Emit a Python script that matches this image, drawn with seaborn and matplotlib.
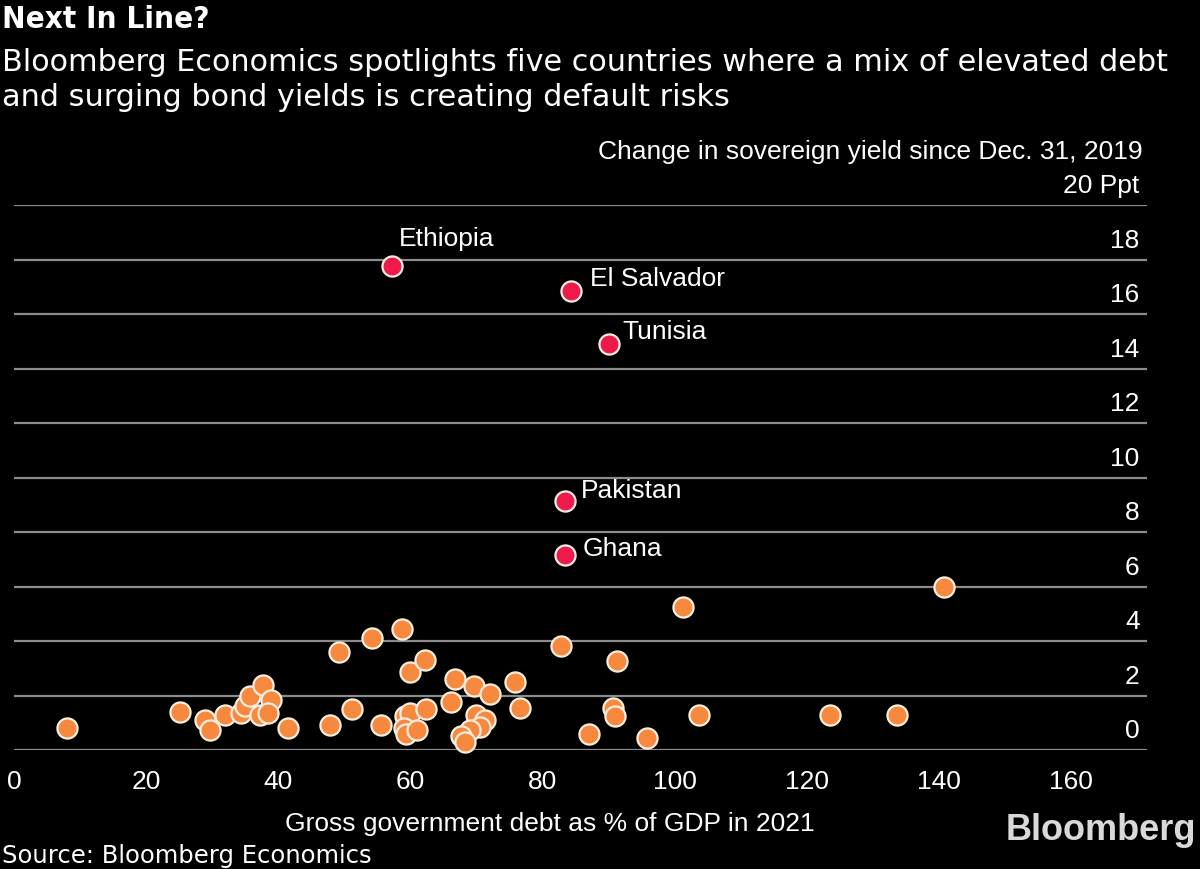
import matplotlib
matplotlib.use("Agg")
import matplotlib.pyplot as plt
import pandas as pd
import seaborn as sns

# flagged countries (red)
hot_names = ["Ethiopia", "El Salvador", "Tunisia", "Pakistan", "Ghana"]
hot_debt = [57.2, 84.3, 90.1, 83.4, 83.4]
hot_yield = [17.75, 16.85, 14.9, 9.15, 7.15]

# everyone else (orange)
other_debt = [8.0, 25.2, 28.9, 29.7, 32.0, 34.4, 35.0, 35.7, 37.7, 38.9,
              37.2, 38.4, 41.4, 47.8, 49.2, 51.1, 54.2, 55.5, 58.8, 59.9,
              62.2, 59.2, 60.0, 59.0, 59.4, 61.0, 62.3, 66.7, 66.2, 69.7,
              72.0, 75.8, 76.6, 69.9, 71.3, 70.5, 69.0, 67.6, 68.3, 82.8,
              91.3, 90.6, 91.0, 87.1, 95.8, 101.2, 103.7, 123.5, 133.7, 140.7]
other_yield = [0.8, 1.4, 1.1, 0.75, 1.3, 1.35, 1.6, 2.0, 2.4, 1.85,
               1.3, 1.35, 0.8, 0.9, 3.6, 1.5, 4.1, 0.9, 4.45, 2.85,
               3.3, 1.25, 1.35, 0.8, 0.6, 0.75, 1.5, 2.6, 1.75, 2.35,
               2.05, 2.5, 1.55, 1.3, 1.1, 0.85, 0.75, 0.5, 0.3, 3.8,
               3.25, 1.55, 1.25, 0.6, 0.45, 5.25, 1.3, 1.3, 1.3, 6.0]

y_ticks = [0, 2, 4, 6, 8, 10, 12, 14, 16, 18, 20]
x_ticks = [0, 20, 40, 60, 80, 100, 120, 140, 160]

df_other = pd.DataFrame({"debt": other_debt, "yld": other_yield})
df_hot = pd.DataFrame({"name": hot_names, "debt": hot_debt, "yld": hot_yield})

sns.set_style("dark", {"axes.facecolor": "black", "figure.facecolor": "black"})
plt.rcParams["font.family"] = ["Liberation Sans", "DejaVu Sans"]

fig = plt.figure(figsize=(12, 8.7), dpi=100)
fig.patch.set_facecolor("black")
ax = fig.add_axes([14 / 1200, 1 - 751 / 870, (1147 - 14) / 1200, (751 - 206) / 870])
ax.set_facecolor("black")

# gridlines
for v in y_ticks:
    ax.axhline(v, color="#8c8c8c", lw=1.6, zorder=1)

sns.scatterplot(data=df_other, x="debt", y="yld", ax=ax, s=210, color="#f7893f",
                edgecolor="#fbeee0", linewidth=1.6, zorder=3, clip_on=False)
sns.scatterplot(data=df_hot, x="debt", y="yld", ax=ax, s=210, color="#ef1a4b",
                edgecolor="#fbeee0", linewidth=1.6, zorder=4, clip_on=False)

# country labels (offsets in data units)
label_off = {"Ethiopia": (1.05, 1.03), "El Salvador": (2.9, 0.48),
             "Tunisia": (2.0, 0.48), "Pakistan": (2.4, 0.4),
             "Ghana": (2.7, 0.26)}
for _, r in df_hot.iterrows():
    dx, dy = label_off[r["name"]]
    ax.text(r["debt"] + dx, r["yld"] + dy, r["name"], color="white", fontsize=19,
            ha="left", va="center")

ax.set_xlim(0, 171.5)
ax.set_ylim(0, 20)
ax.set_yticks([])
ax.set_xticks(x_ticks)
ax.set_xticklabels([str(t) for t in x_ticks], color="white", fontsize=19)
ax.tick_params(axis="x", colors="#8c8c8c", length=12, width=1.4, pad=2, labelcolor="white")
for s in ["top", "right", "left", "bottom"]:
    ax.spines[s].set_visible(False)
ax.grid(False)

# right-side y labels sitting on the gridlines
for v in y_ticks:
    lab = "20 Ppt" if v == 20 else str(v)
    ax.text(170.4, v + 0.72, lab, color="white", fontsize=19, ha="right", va="center")

ax.set_xlabel("Gross government debt as % of GDP in 2021", color="white", fontsize=19)
ax.xaxis.set_label_coords(0.473, -0.112)
ax.set_ylabel("")

fig.text(1143 / 1200, 1 - 152 / 870, "Change in sovereign yield since Dec. 31, 2019",
         color="white", fontsize=19, ha="right", va="center")

fig.text(2 / 1200, 1 - 19 / 870, "Next In Line?", color="white", fontsize=22.5,
         fontweight="bold", family="DejaVu Sans", fontstretch="condensed",
         ha="left", va="center")
fig.text(2 / 1200, 1 - 80 / 870,
         "Bloomberg Economics spotlights five countries where a mix of elevated debt\n"
         "and surging bond yields is creating default risks",
         color="white", fontsize=21.8, family="DejaVu Sans", ha="left", va="center",
         linespacing=1.24)
fig.text(2 / 1200, 1 - 856 / 870, "Source: Bloomberg Economics", color="white",
         fontsize=17.5, family="DejaVu Sans", ha="left", va="center")
fig.text(1196 / 1200, 1 - 831 / 870, "Bloomberg", color="#d9d9d9", fontsize=26,
         fontweight="bold", ha="right", va="center")

fig.savefig("out.png", dpi=100, facecolor="black")
